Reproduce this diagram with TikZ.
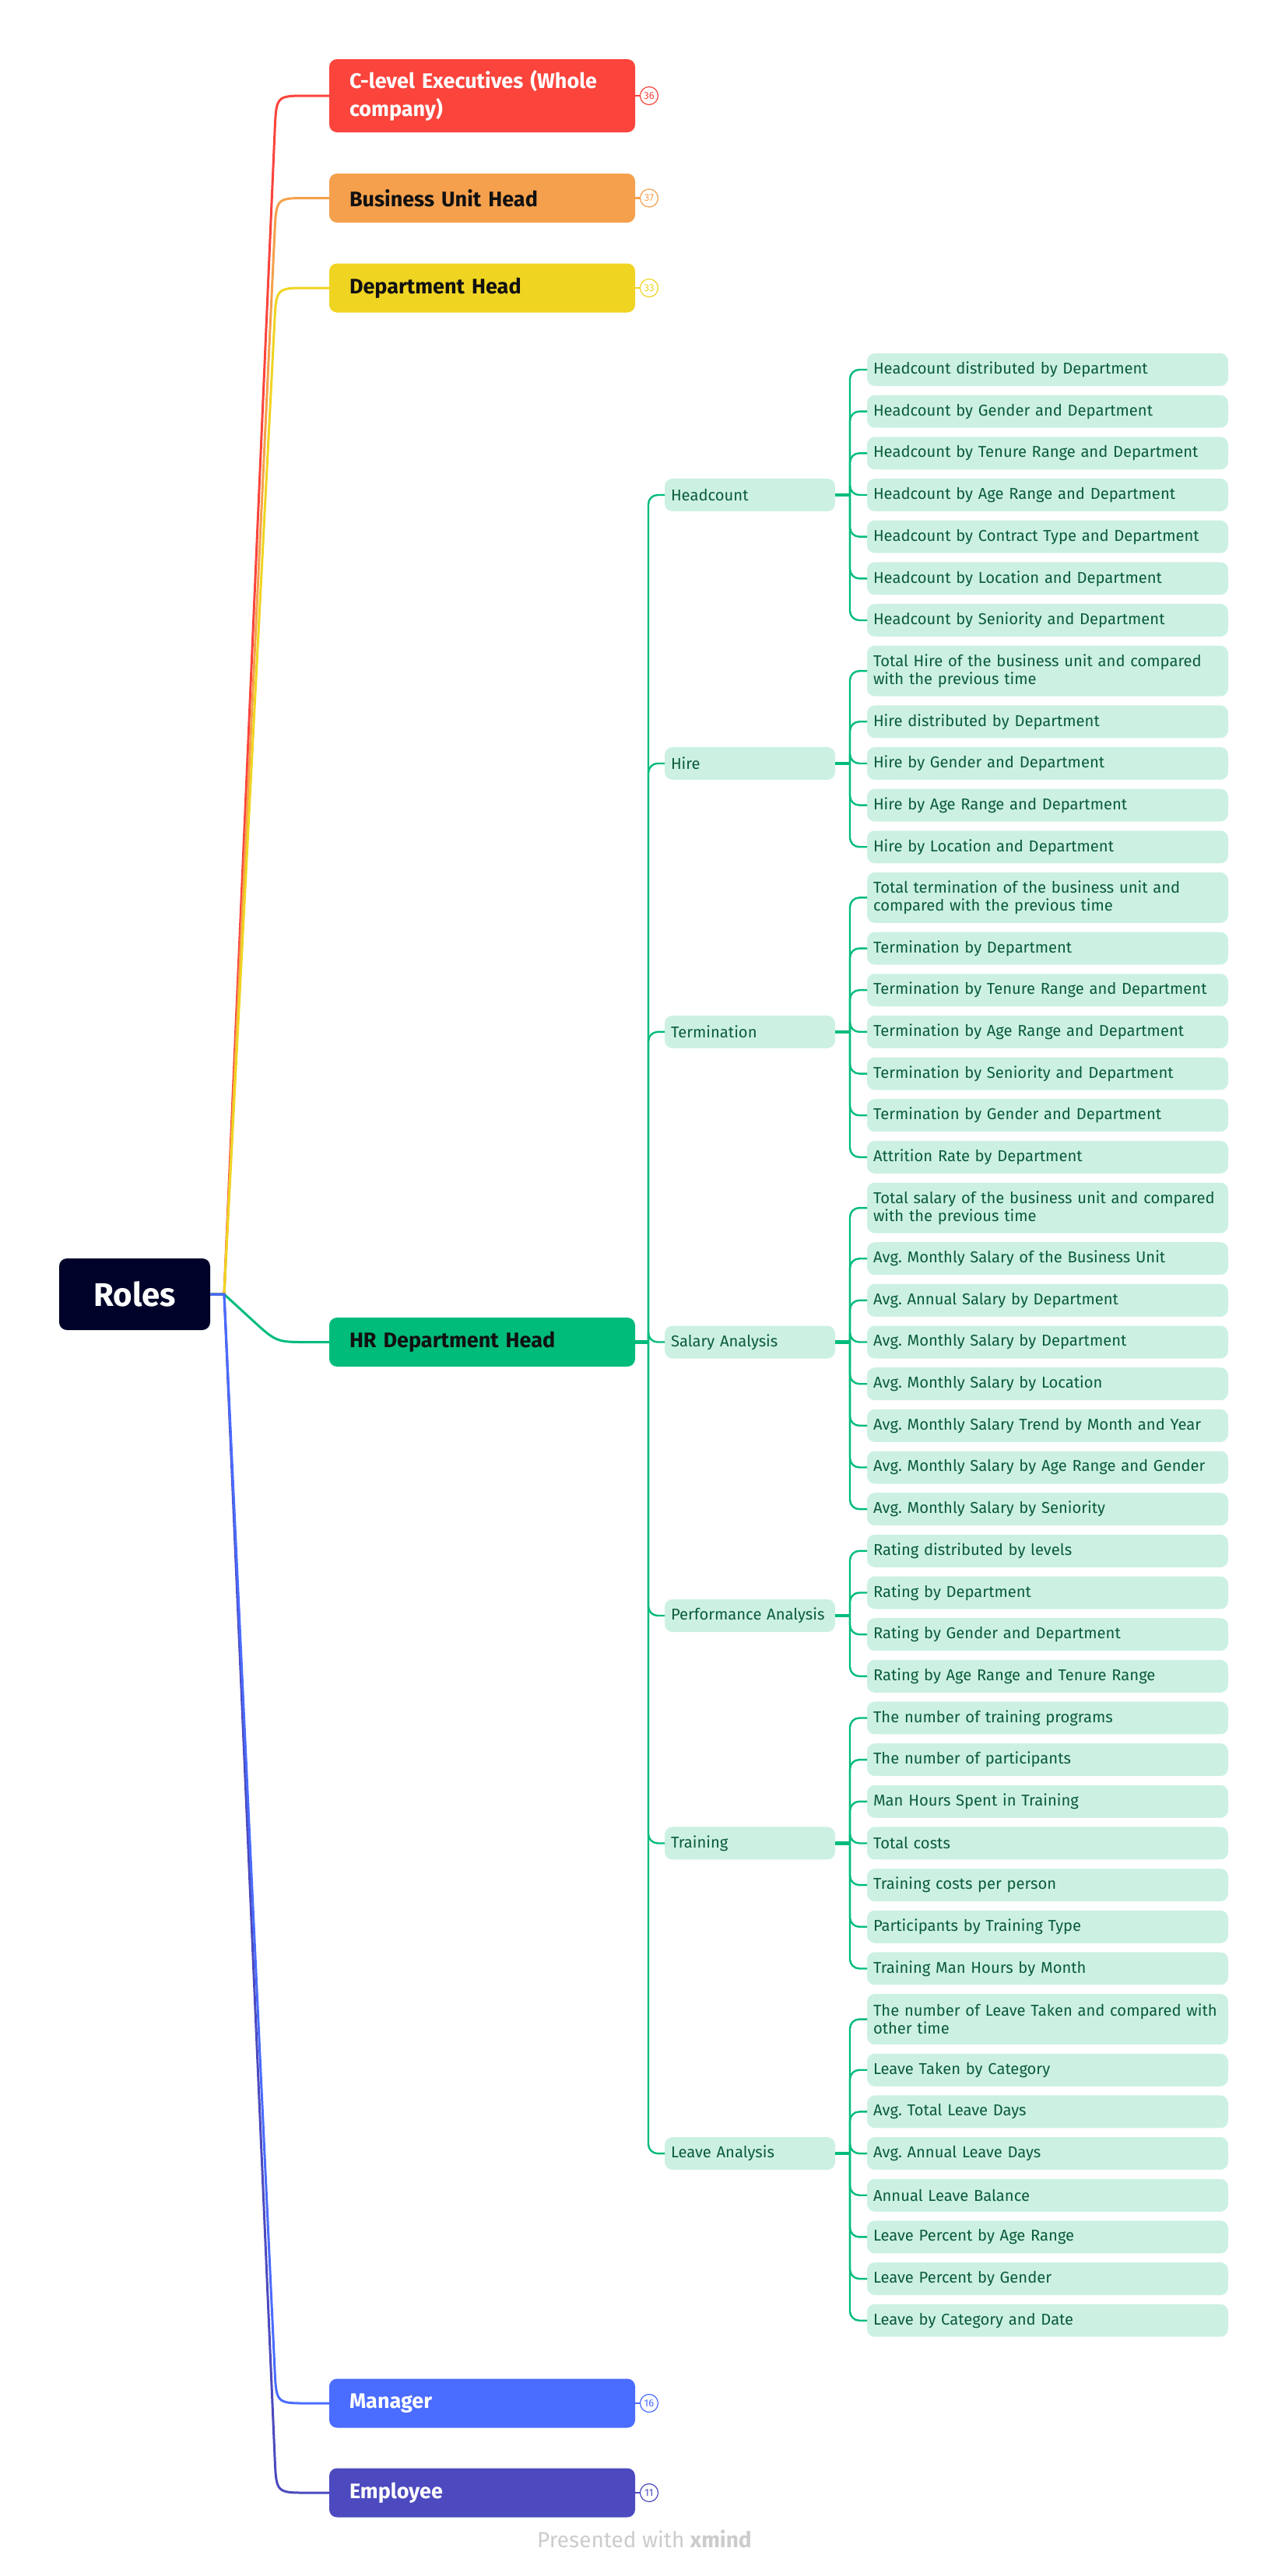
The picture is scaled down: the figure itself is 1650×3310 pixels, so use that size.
\documentclass[tikz,border=0pt]{standalone}
\usepackage{fontspec}
\setmainfont{Fira Sans}
\usetikzlibrary{positioning,calc}
\definecolor{rootc}{HTML}{000229}
\definecolor{cred}{HTML}{FA443C}
\definecolor{corange}{HTML}{F5A04C}
\definecolor{cyellow}{HTML}{F0D422}
\definecolor{cgreen}{HTML}{00BC7B}
\definecolor{cblue}{HTML}{4A6CFF}
\definecolor{cindigo}{HTML}{4C4ABE}
\definecolor{leaffill}{HTML}{CCF1E3}
\definecolor{leaftext}{HTML}{0B5C3A}
\definecolor{darktext}{HTML}{111111}
\begin{document}
\frenchspacing
\begin{tikzpicture}[x=0.5pt,y=-0.5pt,
  leaf/.style={fill=leaffill, rounded corners=5pt, minimum width=232pt, minimum height=21pt,
    text width=224pt, inner xsep=4pt, inner ysep=0pt, outer sep=0pt, align=left, anchor=north west,
    font=\fontsize{10.1}{11.5}\selectfont, text=leaftext},
  dleaf/.style={leaf, minimum height=32.5pt},
  nxt/.style={below=5.83pt of #1},
  ltwo/.style={fill=leaffill, rounded corners=5pt, minimum width=109.5pt, minimum height=21pt,
    text width=101.5pt, inner xsep=4pt, inner ysep=0pt, outer sep=0pt, align=left, anchor=west,
    font=\fontsize{10.1}{11.5}\selectfont, text=leaftext},
  lone/.style={rounded corners=5pt, minimum width=196.5pt, minimum height=31.5pt,
    text width=170.5pt, inner xsep=13pt, inner ysep=0pt, outer sep=0pt, align=left, anchor=west,
    font=\fontsize{13.5}{18}\selectfont\bfseries},
  badge/.style={circle, draw, fill=white, line width=0.6pt, minimum size=11.5pt, inner sep=0pt,
    outer sep=0pt, font=\fontsize{6.5}{7}\selectfont},
  rootlink/.style={line width=1.5pt, to path={-- (rj) -- ($(bx |- \tikztotarget)!22pt!(rj)$)
    .. controls (bx |- \tikztotarget) .. ($(bx |- \tikztotarget)+(40,0)$) -- (\tikztotarget)}},
  gline/.style={draw=cgreen, line width=1.2pt, rounded corners=6pt},
  gstub/.style={draw=cgreen, line width=2.2pt},
  blink/.style={line width=1.2pt}
]
\useasboundingbox (0,0) rectangle (1650,3310);

% helper coordinates
\coordinate (bx) at (355,0);
\coordinate (l1x) at (423,0);
\coordinate (l2x) at (854,0);
\coordinate (sp2) at (833,0);
\coordinate (sp3) at (1092,0);

% root
\node[fill=rootc, text=white, rounded corners=5pt, minimum width=97pt, minimum height=46pt,
  inner sep=0pt, outer sep=0pt, font=\fontsize{21}{24}\selectfont\bfseries] (root) at (173,1663) {Roles};
\coordinate (rj) at (288,1663);

% ---------- leaves ----------
% Headcount
\node[leaf] (h1) at (1114,454) {Headcount distributed by Department};
\node[leaf,nxt=h1] (h2) {Headcount by Gender and Department};
\node[leaf,nxt=h2] (h3) {Headcount by Tenure Range and Department};
\node[leaf,nxt=h3] (h4) {Headcount by Age Range and Department};
\node[leaf,nxt=h4] (h5) {Headcount by Contract Type and Department};
\node[leaf,nxt=h5] (h6) {Headcount by Location and Department};
\node[leaf,nxt=h6] (h7) {Headcount by Seniority and Department};
% Hire
\node[dleaf,nxt=h7] (r1) {Total Hire of the business unit and compared\\with the previous time};
\node[leaf,nxt=r1] (r2) {Hire distributed by Department};
\node[leaf,nxt=r2] (r3) {Hire by Gender and Department};
\node[leaf,nxt=r3] (r4) {Hire by Age Range and Department};
\node[leaf,nxt=r4] (r5) {Hire by Location and Department};
% Termination
\node[dleaf,nxt=r5] (t1) {Total termination of the business unit and\\compared with the previous time};
\node[leaf,nxt=t1] (t2) {Termination by Department};
\node[leaf,nxt=t2] (t3) {Termination by Tenure Range and Department};
\node[leaf,nxt=t3] (t4) {Termination by Age Range and Department};
\node[leaf,nxt=t4] (t5) {Termination by Seniority and Department};
\node[leaf,nxt=t5] (t6) {Termination by Gender and Department};
\node[leaf,nxt=t6] (t7) {Attrition Rate by Department};
% Salary
\node[dleaf,nxt=t7] (s1) {Total salary of the business unit and compared\\with the previous time};
\node[leaf,nxt=s1] (s2) {Avg. Monthly Salary of the Business Unit};
\node[leaf,nxt=s2] (s3) {Avg. Annual Salary by Department};
\node[leaf,nxt=s3] (s4) {Avg. Monthly Salary by Department};
\node[leaf,nxt=s4] (s5) {Avg. Monthly Salary by Location};
\node[leaf,nxt=s5] (s6) {Avg. Monthly Salary Trend by Month and Year};
\node[leaf,nxt=s6] (s7) {Avg. Monthly Salary by Age Range and Gender};
\node[leaf,nxt=s7] (s8) {Avg. Monthly Salary by Seniority};
% Performance
\node[leaf,nxt=s8] (p1) {Rating distributed by levels};
\node[leaf,nxt=p1] (p2) {Rating by Department};
\node[leaf,nxt=p2] (p3) {Rating by Gender and Department};
\node[leaf,nxt=p3] (p4) {Rating by Age Range and Tenure Range};
% Training
\node[leaf,nxt=p4] (g1) {The number of training programs};
\node[leaf,nxt=g1] (g2) {The number of participants};
\node[leaf,nxt=g2] (g3) {Man Hours Spent in Training};
\node[leaf,nxt=g3] (g4) {Total costs};
\node[leaf,nxt=g4] (g5) {Training costs per person};
\node[leaf,nxt=g5] (g6) {Participants by Training Type};
\node[leaf,nxt=g6] (g7) {Training Man Hours by Month};
% Leave
\node[dleaf,nxt=g7] (v1) {The number of Leave Taken and compared with\\other time};
\node[leaf,nxt=v1] (v2) {Leave Taken by Category};
\node[leaf,nxt=v2] (v3) {Avg. Total Leave Days};
\node[leaf,nxt=v3] (v4) {Avg. Annual Leave Days};
\node[leaf,nxt=v4] (v5) {Annual Leave Balance};
\node[leaf,nxt=v5] (v6) {Leave Percent by Age Range};
\node[leaf,nxt=v6] (v7) {Leave Percent by Gender};
\node[leaf,nxt=v7] (v8) {Leave by Category and Date};

% ---------- level 2 ----------
\node[ltwo] (hc) at (l2x |- h4.west) {Headcount};
\node[ltwo] (hi) at (l2x |- r3.west) {Hire};
\node[ltwo] (te) at (l2x |- t4.west) {Termination};
\node[ltwo] (sa) at (l2x |- s4.west) {Salary Analysis};
\node[ltwo] (pa) at ($(l2x |- p2.west)!0.55!(l2x |- p3.west)$) {Performance Analysis};
\node[ltwo] (tr) at (l2x |- g4.west) {Training};
\node[ltwo] (la) at (l2x |- v4.west) {Leave Analysis};

% ---------- level 1 ----------
\node[lone, fill=cred, text=white, minimum height=47pt] (c1) at (423,123) {C-level Executives (Whole\\company)};
\node[lone, fill=corange, text=darktext] (c2) at (423,254.5) {Business Unit Head};
\node[lone, fill=cyellow, text=darktext] (c3) at (423,370) {Department Head};
\node[lone, fill=cgreen, text=darktext] (hr) at (l1x |- s4.west) {HR Department Head};
\node[lone, fill=cblue, text=white] (c5) at (423,3088) {Manager};
\node[lone, fill=cindigo, text=white] (c6) at (423,3203) {Employee};

% badges
\node[badge, draw=cred, text=cred] (b1) at (834,123) {36};
\node[badge, draw=corange, text=corange] (b2) at (834,254.5) {37};
\node[badge, draw=cyellow, text=cyellow] (b3) at (834,370) {33};
\node[badge, draw=cblue, text=cblue] (b5) at (834,3088) {16};
\node[badge, draw=cindigo, text=cindigo] (b6) at (834,3203) {11};
\draw[blink, cred] (c1.east) -- (b1.west);
\draw[blink, corange] (c2.east) -- (b2.west);
\draw[blink, cyellow] (c3.east) -- (b3.west);
\draw[blink, cblue] (c5.east) -- (b5.west);
\draw[blink, cindigo] (c6.east) -- (b6.west);

% ---------- root connectors ----------
\draw[rootlink, cred] (root.east) to (c1.west);
\draw[rootlink, corange] (root.east) to (c2.west);
\draw[rootlink, cyellow] (root.east) to (c3.west);
\draw[rootlink, cgreen] (root.east) to (hr.west);
\draw[rootlink, cindigo] (root.east) to (c6.west);
\draw[rootlink, cblue] (root.east) to (c5.west);

% ---------- HR to level 2 ----------
\coordinate (hrj) at (sp2 |- hr.east);
\draw[gstub] (hr.east) -- (hrj);
\foreach \c in {hc,hi,te,sa,pa,tr,la} \draw[gline] (hrj) |- (\c.west);

% ---------- level 2 to leaves ----------
\coordinate (hcj) at (sp3 |- hc.east);
\coordinate (hij) at (sp3 |- hi.east);
\coordinate (tej) at (sp3 |- te.east);
\coordinate (saj) at (sp3 |- sa.east);
\coordinate (paj) at (sp3 |- pa.east);
\coordinate (trj) at (sp3 |- tr.east);
\coordinate (laj) at (sp3 |- la.east);
\draw[gstub] (hc.east) -- (hcj);
\draw[gstub] (hi.east) -- (hij);
\draw[gstub] (te.east) -- (tej);
\draw[gstub] (sa.east) -- (saj);
\draw[gstub] (pa.east) -- (paj);
\draw[gstub] (tr.east) -- (trj);
\draw[gstub] (la.east) -- (laj);
\foreach \c in {h1,h2,h3,h4,h5,h6,h7} \draw[gline] (hcj) |- (\c.west);
\foreach \c in {r1,r2,r3,r4,r5} \draw[gline] (hij) |- (\c.west);
\foreach \c in {t1,t2,t3,t4,t5,t6,t7} \draw[gline] (tej) |- (\c.west);
\foreach \c in {s1,s2,s3,s4,s5,s6,s7,s8} \draw[gline] (saj) |- (\c.west);
\foreach \c in {p1,p2,p3,p4} \draw[gline] (paj) |- (\c.west);
\foreach \c in {g1,g2,g3,g4,g5,g6,g7} \draw[gline] (trj) |- (\c.west);
\foreach \c in {v1,v2,v3,v4,v5,v6,v7,v8} \draw[gline] (laj) |- (\c.west);

% footer
\node[text=black!20, font=\fontsize{14}{16}\selectfont] (pw) at (828,3262) {Presented with \textbf{xmind}};
\end{tikzpicture}
\end{document}
